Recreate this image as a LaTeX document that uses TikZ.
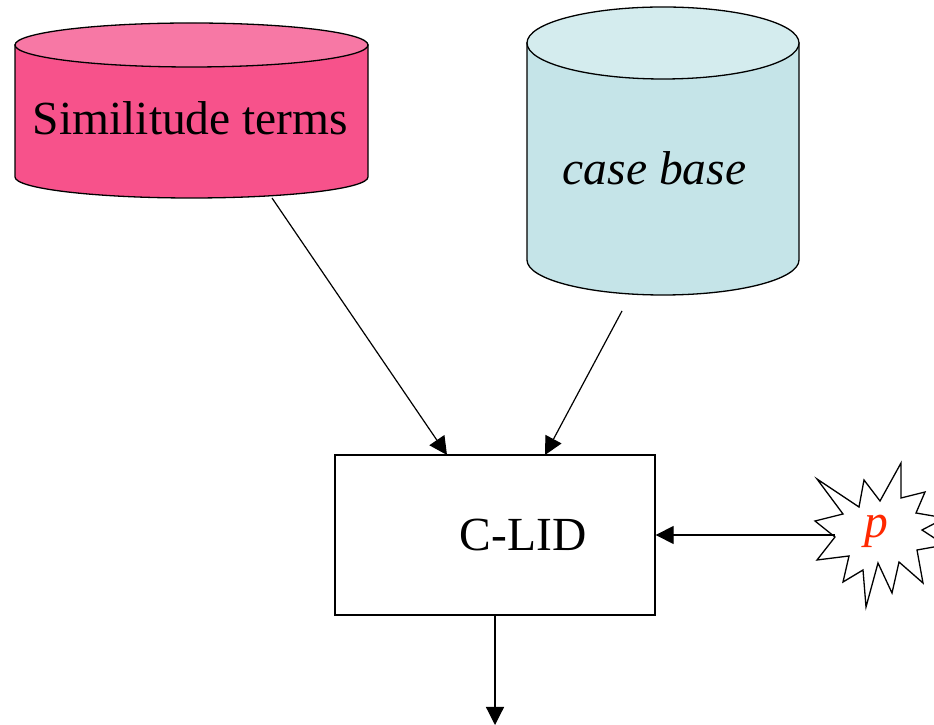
\documentclass[tikz,border=0pt]{standalone}
\usepackage{fontspec}
\setmainfont{Liberation Serif}
\usetikzlibrary{arrows.meta}

\definecolor{pinkbody}{RGB}{247,82,139}
\definecolor{pinktop}{RGB}{247,120,165}
\definecolor{cyanbody}{RGB}{197,228,232}
\definecolor{cyantop}{RGB}{212,236,238}
\definecolor{pred}{RGB}{255,40,0}

\tikzset{
  outline/.style={draw=black, line width=1.3pt},
  flow/.style={draw=black, line width=1.2pt, -{Triangle[length=18pt,width=18pt]}},
  bigtext/.style={font=\fontsize{47.5}{56}\selectfont, inner sep=0pt, anchor=base},
}

\begin{document}
\begin{tikzpicture}[x=1pt,y=1pt]
  \useasboundingbox (0,0) rectangle (934,725);
  \clip (0,0) rectangle (934,725);

  % similitude terms store
  \path[outline, fill=pinkbody] (15,680) -- (15,548)
    arc[start angle=180, end angle=360, x radius=176.5pt, y radius=21pt]
    -- (368,680) -- cycle;
  \path[outline, fill=pinktop] (191.5,680) ellipse[x radius=176.5pt, y radius=22pt];
  \node[bigtext] (sim) at (190.5,590) {Similitude terms};
  \coordinate (simout) at (272,527);

  % case base store
  \path[outline, fill=cyanbody] (527,682) -- (527,465)
    arc[start angle=180, end angle=360, x radius=136pt, y radius=35pt]
    -- (799,682) -- cycle;
  \path[outline, fill=cyantop] (663,682) ellipse[x radius=136pt, y radius=36pt];
  \node[bigtext] (cb) at (654.5,540) {\itshape case base};
  \coordinate (cbout) at (622,414);

  % C-LID process box
  \node[outline, rectangle, minimum width=320pt, minimum height=160pt, inner sep=0pt] (clid) at (495,190) {};
  \node[bigtext] (clidtext) at (523,174) {C-LID};
  \coordinate (clidin1) at (447,270);
  \coordinate (clidin2) at (545,270);

  % p burst
  \path[outline, fill=white, line join=miter]
    (817,246) -- (859,218) -- (864,245) -- (880,224) -- (901,262) -- (901,227)
    -- (925,233) -- (916,212) -- (945,207) -- (922,195) -- (945,180) -- (917,175)
    -- (923,142) -- (899,163) -- (892,132) -- (878,162) -- (866,118) -- (863,155)
    -- (843,143) -- (849,169) -- (817,165) -- (835,188) -- (815,204) -- (843,211)
    -- cycle;
  \node[bigtext, text=pred] (p) at (876,187) {\itshape p};
  \coordinate (pout) at (835,190);

  % output end
  \coordinate (out) at (495,0);

  % connectors
  \draw[flow] (simout) -- (clidin1);
  \draw[flow] (cbout) -- (clidin2);
  \draw[flow] (pout) -- (clid.east);
  \draw[flow] (clid.south) -- (out);
\end{tikzpicture}
\end{document}
